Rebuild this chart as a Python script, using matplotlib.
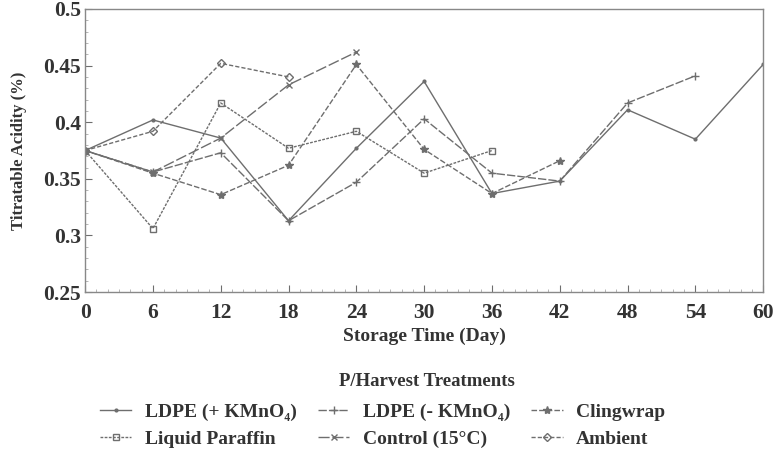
import matplotlib
matplotlib.use("Agg")
import matplotlib.pyplot as plt
from matplotlib.ticker import MultipleLocator

plt.rcParams['font.family'] = ['Liberation Serif', 'DejaVu Serif']
plt.rcParams['font.weight'] = 'bold'

days = [0, 6, 12, 18, 24, 30, 36, 42, 48, 54, 60]

ldpe_plus = [0.375, 0.402, 0.386, 0.313, 0.377, 0.436, 0.337, 0.348, 0.411, 0.385, 0.451]
ldpe_minus = [0.375, 0.356, 0.373, 0.313, 0.347, 0.403, 0.355, 0.348, 0.417, 0.441]
clingwrap = [0.375, 0.355, 0.336, 0.362, 0.451, 0.376, 0.337, 0.366]
paraffin = [0.375, 0.306, 0.417, 0.377, 0.392, 0.355, 0.375]
control = [0.375, 0.356, 0.386, 0.433, 0.462]
ambient = [0.375, 0.392, 0.452, 0.440]

labels = ['LDPE (+ KMnO\u2084)', 'LDPE (- KMnO\u2084)', 'Clingwrap',
          'Liquid Paraffin', 'Control (15\u00b0C)', 'Ambient']
xticks = [0, 6, 12, 18, 24, 30, 36, 42, 48, 54, 60]
yticks = [0.25, 0.3, 0.35, 0.4, 0.45, 0.5]
ytick_labels = ['0.25', '0.3', '0.35', '0.4', '0.45', '0.5']

fig = plt.figure(figsize=(7.74, 4.5), dpi=100)
ax = fig.add_axes([0.110, 0.351, 0.876, 0.629])

c = '#6e6e6e'
styles = [
    dict(marker='.', markersize=4, linestyle='-'),
    dict(marker='+', markersize=6, linestyle=(0, (6, 1.5))),
    dict(marker='*', markersize=6, linestyle=(0, (4, 1.5))),
    dict(marker='s', markersize=5, linestyle=(0, (2, 1)), markerfacecolor='none'),
    dict(marker='x', markersize=5, linestyle=(0, (8, 2))),
    dict(marker='D', markersize=4, linestyle=(0, (3, 1.5)), markerfacecolor='none'),
]
series = [ldpe_plus, ldpe_minus, clingwrap, paraffin, control, ambient]
handles = []
for s, st, lab in zip(series, styles, labels):
    h, = ax.plot(days[:len(s)], s, color=c, linewidth=1.0, label=lab, **st)
    handles.append(h)

ax.set_xlim(0, 60)
ax.set_ylim(0.25, 0.5)
ax.set_xticks(xticks)
ax.set_yticks(yticks)
ax.set_yticklabels(ytick_labels)
ax.yaxis.set_minor_locator(MultipleLocator(0.01))
ax.xaxis.set_minor_locator(MultipleLocator(1))
ax.tick_params(axis='both', which='major', direction='in', length=5, color=c,
               labelsize=15.5, pad=3)
ax.tick_params(axis='x', which='major', pad=8)
ax.tick_params(axis='both', which='minor', direction='in', length=2, color='#aaaaaa')
for lbl in ax.get_xticklabels() + ax.get_yticklabels():
    lbl.set_fontweight('bold')
    lbl.set_color('#333333')
for sp in ax.spines.values():
    sp.set_color('#888888')
    sp.set_linewidth(1.0)

ax.set_xlabel('Storage Time (Day)', fontsize=14, fontweight='bold', color='#333333', labelpad=3)
ax.set_ylabel('Titratable Acidity (%)', fontsize=12, fontweight='bold', color='#333333', labelpad=12)

order = [0, 3, 1, 4, 2, 5]
leg = fig.legend([handles[i] for i in order], [labels[i] for i in order],
                 ncol=3, loc='upper left', bbox_to_anchor=(100 / 774, 0.104),
                 frameon=False, fontsize=14, handlelength=1.6, borderpad=0,
                 borderaxespad=0, columnspacing=1.1, labelspacing=0.5,
                 handletextpad=0.7)
for t in leg.get_texts():
    t.set_color('#333333')
fig.text(427 / 774, 1 - 381 / 450, 'P/Harvest Treatments', ha='center', va='center',
         fontsize=13.5, fontweight='bold', color='#333333')

fig.savefig('out.png', dpi=100)
